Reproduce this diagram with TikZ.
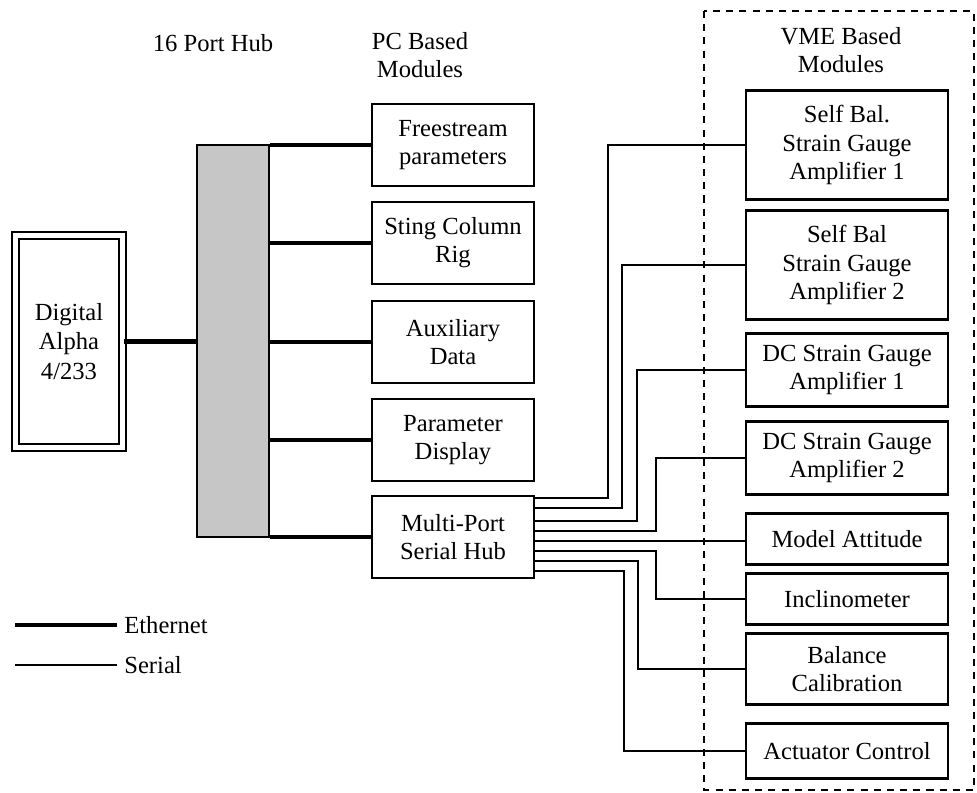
\documentclass[tikz,border=0pt]{standalone}
\usepackage{fontspec}
\setmainfont{Liberation Serif}
\usetikzlibrary{positioning}

\begin{document}
\begin{tikzpicture}[x=0.02cm, y=-0.02cm,
    every node/.style={font=\fontsize{14}{16}\selectfont, align=center},
    pcbox/.style={draw, line width=1.5pt, minimum width=3.24cm, minimum height=1.64cm, inner sep=0pt},
    vmebox/.style={draw, line width=1.5pt, minimum width=4.04cm, inner sep=0pt},
    ether/.style={line width=2.8pt},
    serialln/.style={line width=1.1pt}]

    \useasboundingbox (0,0) rectangle (977,792);

    % Headings
    \node (hublbl) at (213,43) {16 Port Hub};
    \node (pclbl) at (420,55) {PC Based\\Modules};
    \node (vmelbl) at (841,50) {VME Based\\Modules};

    % Dashed VME frame
    \draw[line width=1.2pt, dash pattern=on 4pt off 3.5pt] (704,11) rectangle (974,790);

    % Computer and 16 port hub
    \node[draw, double, double distance=0.1cm, line width=1.2pt, minimum width=2.14cm, minimum height=4.24cm,
          font=\fontsize{14}{17}\selectfont] (alpha) at (69,341.5) {Digital\\Alpha\\4/233};
    \node[draw, line width=1.5pt, fill=gray!45, minimum width=1.44cm, minimum height=7.84cm, inner sep=0pt] (hub) at (233,341) {};
    \draw[ether] (alpha.east) -- (alpha.east -| hub.west);

    % PC based modules
    \foreach \n/\y/\t in {free/145/Freestream\\parameters, sting/243/Sting Column\\Rig, aux/342/Auxiliary\\Data,
                          disp/440/Parameter\\Display, mph/537/Multi-Port\\Serial Hub} {
      \node[pcbox] (\n) at (453,\y) {\t};
      \draw[ether] (hub.east |- \n.west) -- (\n.west);
    }

    % VME based modules
    \foreach \n/\y/\h/\t in {sb1/145/2.18/Self Bal.\\Strain Gauge\\Amplifier 1, sb2/265/2.18/Self Bal\\Strain Gauge\\Amplifier 2,
                             dc1/370/1.46/DC Strain Gauge\\Amplifier 1, dc2/458/1.46/DC Strain Gauge\\Amplifier 2,
                             att/539/1.02/Model Attitude, incl/599/1.02/Inclinometer,
                             bal/669/1.42/Balance\\Calibration, act/751/1.1/Actuator Control} {
      \node[vmebox, minimum height=\h cm] (\n) at (847,\y) {\t};
    }

    % Serial ports of the multi-port hub
    \foreach \p/\y in {1/498, 2/508, 3/521, 4/531, 5/541, 6/551, 7/561, 8/571}
      \coordinate (port\p) at (mph.east |- 0,\y);

    % Serial links
    \foreach \p/\x/\n in {1/608/sb1, 2/622/sb2, 3/637/dc1, 4/656/dc2, 6/656/incl, 7/638/bal, 8/624/act}
      \draw[serialln] (port\p) -- (port\p -| \x,0) |- (\n.west);
    \draw[serialln] (port5) -- (port5 -| att.west);

    % Legend
    \coordinate (ethstart) at (15,625);
    \coordinate (serstart) at (15,665);
    \node[anchor=west, inner sep=4pt] (ethkey) at (117,625) {Ethernet};
    \node[anchor=west, inner sep=4pt] (serkey) at (117,665) {Serial};
    \draw[ether] (ethstart) -- (ethkey.west);
    \draw[serialln] (serstart) -- (serkey.west);

\end{tikzpicture}
\end{document}
